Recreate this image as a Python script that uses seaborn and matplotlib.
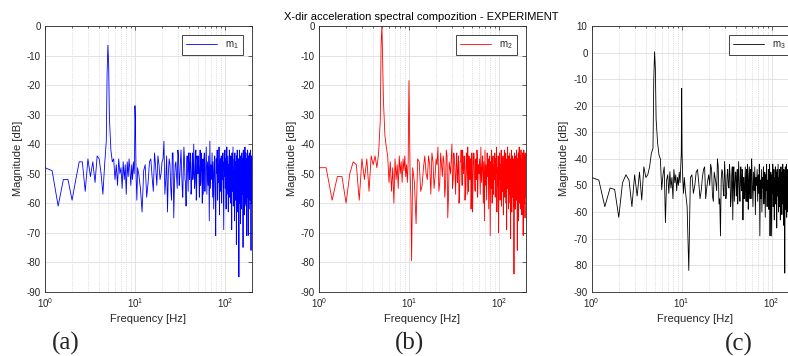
import numpy as np
import pandas as pd
import matplotlib
matplotlib.use("Agg")
import matplotlib.pyplot as plt
import seaborn as sns

# frequency bins [Hz] - finer spacing around the 5 Hz / 10 Hz peaks, 1 Hz above 11 Hz
freq_low = [1.0, 1.2, 1.4, 1.6, 1.8,
            2.0, 2.2, 2.4, 2.6, 2.8,
            3.0, 3.2, 3.4, 3.6, 3.8,
            4.0, 4.2, 4.4, 4.6, 4.8,
            4.9, 5.0, 5.1, 5.2, 5.4,
            5.6, 5.8, 6.0, 6.2, 6.4,
            6.6, 6.8, 7.0, 7.2, 7.4,
            7.6, 7.8, 8.0, 8.2, 8.4,
            8.6, 8.8, 9.0, 9.2, 9.4,
            9.6, 9.8, 9.9, 10.0, 10.1,
            10.3, 10.5, 10.7]
freq_high = list(range(11, 201))
# extra half-Hz bins between 11 and 60 Hz
freq_mid = [f + 0.5 for f in range(11, 60)]

# magnitudes [dB]
m1_low = [-48, -49, -61, -52, -52,
          -59, -52, -46, -46, -56,
          -45, -51, -46, -53, -44,
          -45, -50, -57, -47, -39,
          -16.5, -6.5, -12.5, -31, -42,
          -46, -45, -52, -47, -54,
          -45, -50, -48, -55, -46,
          -52, -47, -57, -46, -51,
          -45, -49, -54, -47, -52,
          -46, -50, -45, -27, -31,
          -51, -59, -48]
m1_high = [-50, -63, -47, -53, -45, -56, -48, -44, -52, -46,
           -39, -52, -63, -45, -55, -43, -65, -47, -51, -42,
           -54, -46, -49, -58, -41, -52, -61, -44, -56, -47,
           -43, -57, -48, -52, -40, -55, -46, -59, -44, -50,
           -47, -58, -42, -53, -49, -60, -45, -51, -43, -56,
           -48, -41, -57, -46, -54, -44, -66, -39, -55, -47,
           -52, -43, -58, -46, -62, -49, -44, -55, -71, -45,
           -50, -42, -59, -47, -53, -41, -64, -48, -45, -56,
           -44, -60, -47, -52, -43, -58, -69, -46, -51, -42,
           -55, -45, -62, -48, -41, -57, -50, -44, -63, -47,
           -53, -42, -58, -46, -60, -44, -52, -48, -69, -43,
           -56, -47, -41, -61, -49, -54, -45, -66, -43, -51,
           -46, -59, -48, -74, -44, -55, -42, -63, -50, -47,
           -57, -45, -85, -49, -42, -60, -52, -46, -67, -44,
           -54, -48, -62, -43, -57, -47, -51, -45, -75, -42,
           -58, -49, -44, -64, -46, -53, -41, -60, -48, -55,
           -43, -61, -50, -71, -45, -52, -47, -58, -42, -56,
           -71, -46, -51, -44, -62, -48, -43, -57, -50, -45,
           -59, -47, -42, -53, -76, -49, -44, -60, -46, -51]
m1_mid = [-55, -49, -58, -46, -51, -43, -54, -47, -50,
          -45, -57, -44, -50, -47, -59, -43, -53, -46, -55,
          -44, -51, -42, -55, -48, -45, -53, -47, -50, -43,
          -52, -45, -55, -43, -50, -47, -53, -42, -56, -46,
          -44, -51, -48, -54, -43, -49, -46, -57, -45, -52]

m2_low = [-48, -48, -59, -51, -51,
          -60, -50, -46, -47, -59,
          -45, -52, -45, -56, -44,
          -47, -44, -48, -43, -32,
          -6, 0, -11.5, -25, -37,
          -41, -44, -53, -46, -56,
          -48, -60, -45, -52, -47,
          -55, -44, -50, -46, -53,
          -45, -49, -44, -51, -47,
          -53, -46, -30, -18.5, -30,
          -50, -58, -79.5]
m2_high = [-48, -67, -46, -54, -44, -52, -47, -43, -55, -45,
           -41, -53, -47, -44, -58, -42, -65, -46, -50, -40,
           -52, -45, -57, -43, -49, -60, -46, -42, -54, -48,
           -44, -59, -47, -51, -41, -56, -49, -45, -62, -43,
           -63, -48, -44, -55, -46, -52, -42, -58, -47, -50,
           -45, -57, -41, -53, -48, -44, -60, -46, -66, -42,
           -54, -47, -59, -43, -51, -45, -62, -48, -44, -71,
           -46, -55, -42, -60, -49, -44, -57, -47, -52, -43,
           -58, -45, -50, -41, -63, -48, -54, -44, -70, -46,
           -52, -43, -59, -47, -55, -42, -61, -49, -45, -56,
           -44, -64, -48, -53, -42, -58, -46, -51, -43, -60,
           -47, -69, -45, -55, -41, -52, -48, -62, -44, -57,
           -49, -43, -60, -46, -72, -45, -54, -42, -63, -48,
           -53, -44, -58, -47, -61, -45, -84, -50, -43, -56,
           -48, -62, -44, -55, -46, -59, -42, -52, -47, -76,
           -45, -57, -49, -43, -66, -47, -53, -41, -60, -48,
           -55, -44, -62, -46, -51, -42, -58, -49, -45, -64,
           -47, -53, -43, -59, -48, -71, -45, -56, -42, -60,
           -49, -44, -57, -47, -65, -43, -52, -46, -58, -45]
m2_mid = [-53, -45, -56, -48, -50, -44, -57, -46, -51,
          -47, -56, -43, -51, -46, -54, -44, -58, -48, -45,
          -55, -43, -50, -47, -53, -44, -57, -46, -49, -42,
          -50, -46, -54, -43, -57, -47, -44, -52, -45, -55,
          -46, -53, -43, -50, -56, -45, -49, -44, -54, -47]

m3_low = [-47, -48, -58, -51, -51.5,
          -62, -49, -46, -48, -58,
          -46, -54, -45, -55.5, -43,
          -47, -46, -43, -38, -36,
          -10, 0.3, -6, -25, -34,
          -38.6, -40, -51.6, -46, -43,
          -64, -48, -46, -53, -44.8,
          -51, -47, -55, -44, -49,
          -46, -52, -47, -50, -45,
          -49, -42, -38, -13.5, -38,
          -48, -53, -47]
m3_high = [-52, -82, -46, -50, -44, -55, -47, -43, -51, -46,
           -42, -54, -45, -49, -40, -57, -69, -44, -52, -41,
           -55, -46, -50, -42, -58, -47, -63, -43, -51, -45,
           -48, -57, -41, -53, -46, -50, -44, -63, -47, -52,
           -43, -56, -48, -42, -59, -46, -51, -44, -55, -40,
           -49, -58, -45, -52, -43, -61, -47, -50, -44, -56,
           -46, -53, -42, -69, -48, -55, -44, -60, -47, -51,
           -43, -57, -49, -45, -62, -46, -52, -42, -58, -48,
           -54, -44, -59, -47, -42, -69, -50, -45, -56, -69,
           -46, -53, -42, -58, -48, -44, -63, -47, -51, -43,
           -57, -45, -50, -66, -44, -54, -48, -42, -60, -47,
           -52, -44, -58, -46, -63, -49, -43, -55, -47, -61,
           -45, -51, -42, -57, -48, -65, -44, -53, -46, -83,
           -50, -43, -59, -47, -54, -42, -62, -48, -45, -57,
           -44, -60, -49, -43, -55, -47, -67, -45, -52, -42,
           -56, -46, -61, -44, -50, -47, -58, -43, -53, -48,
           -45, -64, -49, -42, -55, -47, -60, -44, -51, -46,
           -57, -43, -52, -48, -66, -45, -50, -42, -59, -47,
           -44, -55, -49, -62, -46, -53, -43, -58, -48, -51]
m3_mid = [-58, -47, -53, -45, -49, -52, -44, -55, -48,
          -50, -44, -56, -47, -52, -43, -55, -48, -45, -54,
          -47, -53, -44, -51, -46, -55, -43, -49, -56, -45,
          -54, -44, -50, -47, -56, -43, -52, -45, -49, -55,
          -47, -52, -44, -56, -46, -50, -43, -55, -48, -45]

labels = [r"m$_1$", r"m$_2$", r"m$_3$"]
colors = ["blue", "red", "black"]
ytops = [0, 0, 10]
panels = ["(a)", "(b)", "(c)"]

sns.set_theme(style="white")
plt.rcParams["font.family"] = ["Liberation Sans", "DejaVu Sans"]
plt.rcParams["mathtext.fontset"] = "custom"
plt.rcParams["mathtext.rm"] = "Liberation Sans"
plt.rcParams["mathtext.it"] = "Liberation Sans:italic"
plt.rcParams["axes.unicode_minus"] = False

ink = "#262626"
W, H = 788, 356
fig = plt.figure(figsize=(W / 100, H / 100), dpi=100)

ax_w = 207 / W
ax_h = 265.7 / H
bottom = (H - 291.7) / H
lefts = [45 / W, 319 / W, 591.7 / W]
panel_pos = [(65.5, 343), (410, 343), (739, 344)]

series = [(m1_low, m1_high, m1_mid),
          (m2_low, m2_high, m2_mid),
          (m3_low, m3_high, m3_mid)]

for i in range(3):
    lo, hi, mid = series[i]
    df = pd.DataFrame({"freq": freq_low + freq_high + freq_mid,
                       "mag": lo + hi + mid}).sort_values("freq")
    ax = fig.add_axes([lefts[i], bottom, ax_w, ax_h])
    sns.lineplot(data=df, x="freq", y="mag", ax=ax, color=colors[i], lw=0.6,
                 sort=False, estimator=None, label=labels[i])
    ax.set_xscale("log")
    ax.set_xlim(1, 200)
    ax.set_ylim(-90, ytops[i])
    ax.set_yticks(np.arange(-90, ytops[i] + 1, 10))

    ax.grid(True, which="major", color="#dedede", lw=0.6)
    ax.grid(True, which="minor", axis="x", color="#c4c4c4", lw=0.5, ls=":")
    ax.set_axisbelow(True)

    ax.tick_params(which="both", direction="in", top=True, right=True,
                   colors=ink, labelsize=7, width=0.5)
    ax.tick_params(which="major", length=3, pad=3)
    ax.tick_params(which="minor", length=1.5)
    for sp in ax.spines.values():
        sp.set_color(ink)
        sp.set_linewidth(0.6)

    ax.set_xlabel("Frequency [Hz]", fontsize=8, color=ink)
    ax.set_ylabel("Magnitude [dB]", fontsize=8, color=ink)
    ax.xaxis.set_label_coords(0.5, -0.084)
    ax.yaxis.set_label_coords(-0.108, 0.5)

    leg = ax.legend(loc="upper right", fontsize=7, fancybox=False,
                    edgecolor=ink, framealpha=1, handlelength=3.2,
                    borderaxespad=0.9, borderpad=0.45)
    leg.get_frame().set_linewidth(0.6)

    fig.text(panel_pos[i][0] / W, 1 - panel_pos[i][1] / H, panels[i],
             family=["Liberation Serif"], fontsize=18, ha="center", va="center")

fig.text(421 / W, 1 - 16.5 / H, "X-dir acceleration spectral compozition - EXPERIMENT",
         ha="center", va="center", fontsize=8, color="black")

fig.savefig("out.png", dpi=100)
